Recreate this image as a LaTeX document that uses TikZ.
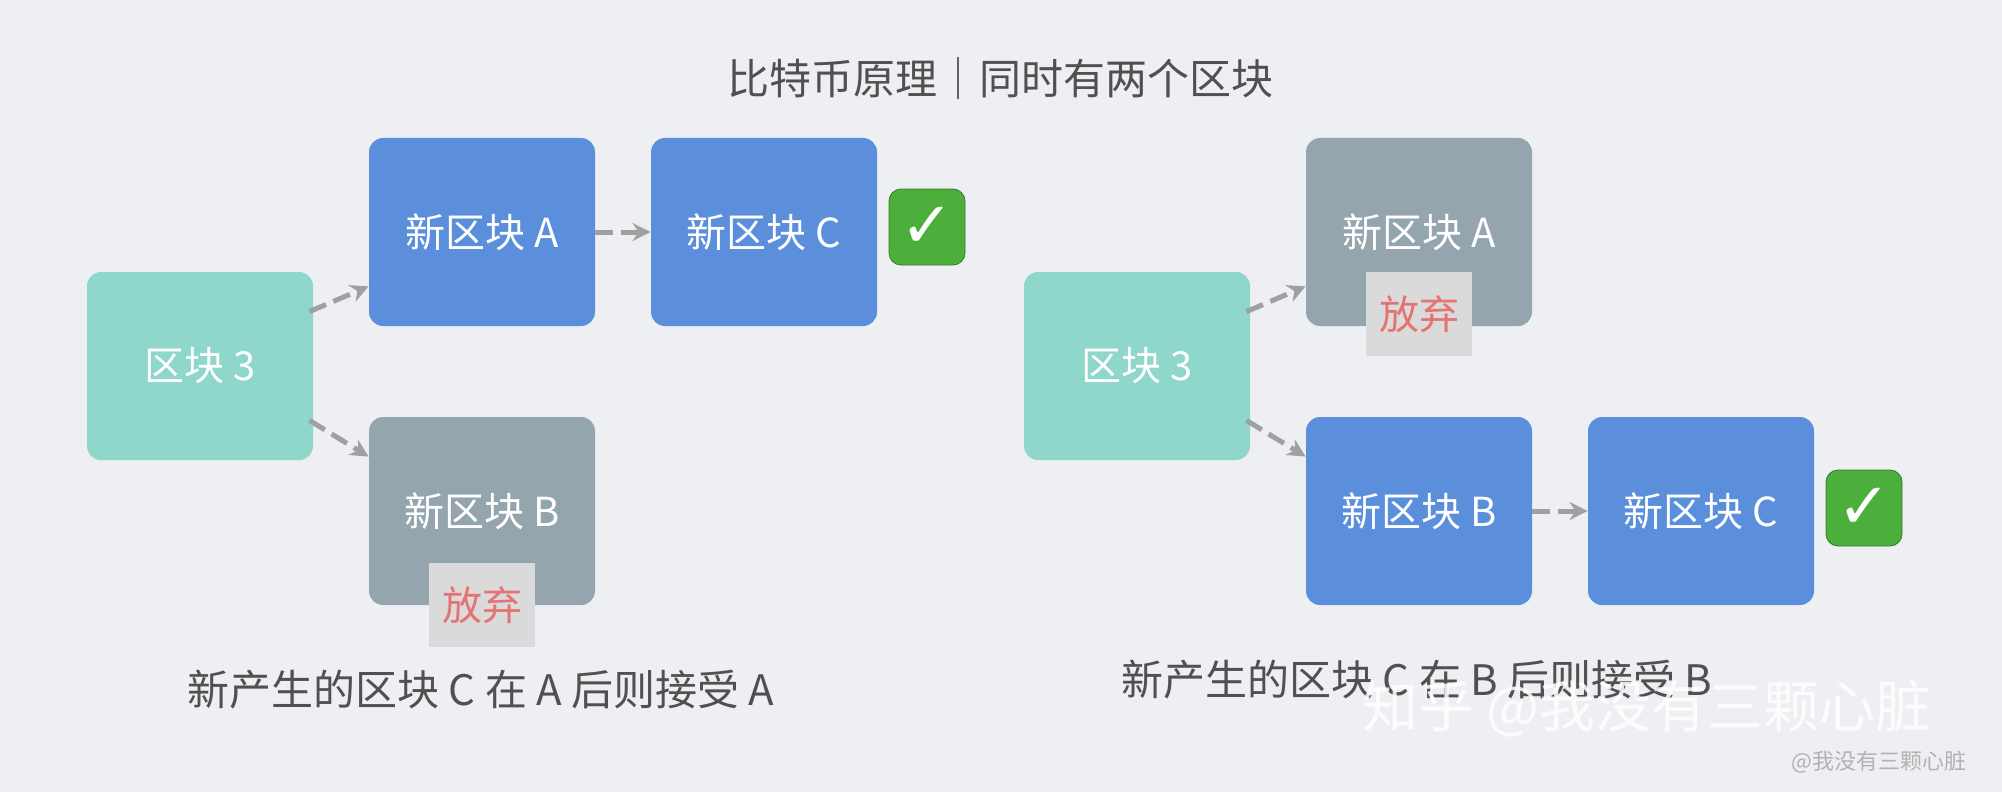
\documentclass[tikz,border=0pt]{standalone}
\usepackage{fontspec}
\setmainfont{Noto Sans CJK SC}
\newfontfamily\djv{DejaVu Sans}
\usetikzlibrary{arrows.meta}
\definecolor{bgc}{HTML}{EEEFF3}
\definecolor{teal}{HTML}{8FD6CB}
\definecolor{blu}{HTML}{5B8FDC}
\definecolor{gry}{HTML}{95A5AE}
\definecolor{abg}{HTML}{DADADA}
\definecolor{atx}{HTML}{E57373}
\definecolor{arr}{HTML}{A0A0A0}
\definecolor{txt}{HTML}{505050}
\definecolor{grn}{HTML}{4CAF3C}
\tikzset{
 blk/.style={rounded corners=7pt, minimum width=113pt, minimum height=94pt, text=white, font=\fontsize{20}{20}\selectfont},
 abd/.style={fill=abg, text=atx, minimum width=53pt, minimum height=42pt, inner sep=0pt, font=\fontsize{20}{20}\selectfont},
 chk/.style={fill=grn, draw=grn!70!black, rounded corners=6pt, minimum size=38pt, inner sep=0pt, text=white, font=\djv\fontsize{32}{32}\selectfont\bfseries},
 con/.style={draw=arr, line width=2.5pt, dash pattern=on 9pt off 4pt, -{Stealth[length=9pt,width=9pt]}},
 captxt/.style={text=txt, font=\fontsize{21}{21}\selectfont}
}
\begin{document}
\begin{tikzpicture}[x=0.5pt,y=-0.5pt]
\fill[bgc] (0,0) rectangle (2002,792);
\node[captxt] (title) at (1000,79) {比特币原理｜同时有两个区块};
% left
\node[blk,fill=teal] (l3) at (200,366) {区块 3};
\node[blk,fill=blu] (la) at (482,232) {新区块 A};
\node[blk,fill=blu] (lc) at (764,232) {新区块 C};
\node[blk,fill=gry] (lb) at (482,511) {新区块 B};
\node[abd] (lab) at (482,605) {放弃};
\node[chk] (lck) at (927,227) {✓};
\draw[con] ([xshift=-2pt,yshift=-20pt]l3.north east) -- ([yshift=20pt]la.south west);
\draw[con] ([xshift=-2pt,yshift=20pt]l3.south east) -- ([yshift=-20pt]lb.north west);
\draw[con] (la.east) -- (lc.west);
\node[captxt] (lcap) at (481,690) {新产生的区块 C 在 A 后则接受 A};
% right
\node[blk,fill=teal] (r3) at (1137,366) {区块 3};
\node[blk,fill=gry] (ra) at (1419,232) {新区块 A};
\node[abd] (rab) at (1419,314) {放弃};
\node[blk,fill=blu] (rb) at (1419,511) {新区块 B};
\node[blk,fill=blu] (rc) at (1701,511) {新区块 C};
\node[chk] (rck) at (1864,508) {✓};
\draw[con] ([xshift=-2pt,yshift=-20pt]r3.north east) -- ([yshift=20pt]ra.south west);
\draw[con] ([xshift=-2pt,yshift=20pt]r3.south east) -- ([yshift=-20pt]rb.north west);
\draw[con] (rb.east) -- (rc.west);
\node[captxt] (rcap) at (1417,680) {新产生的区块 C 在 B 后则接受 B};
% watermark
\node[text=white, opacity=0.85, font=\fontsize{28}{28}\selectfont] (wm) at (1647,709) {知乎 @我没有三颗心脏};
\node[text=gray!60, font=\fontsize{11}{11}\selectfont] (wm2) at (1879,762) {@我没有三颗心脏};
\end{tikzpicture}
\end{document}
